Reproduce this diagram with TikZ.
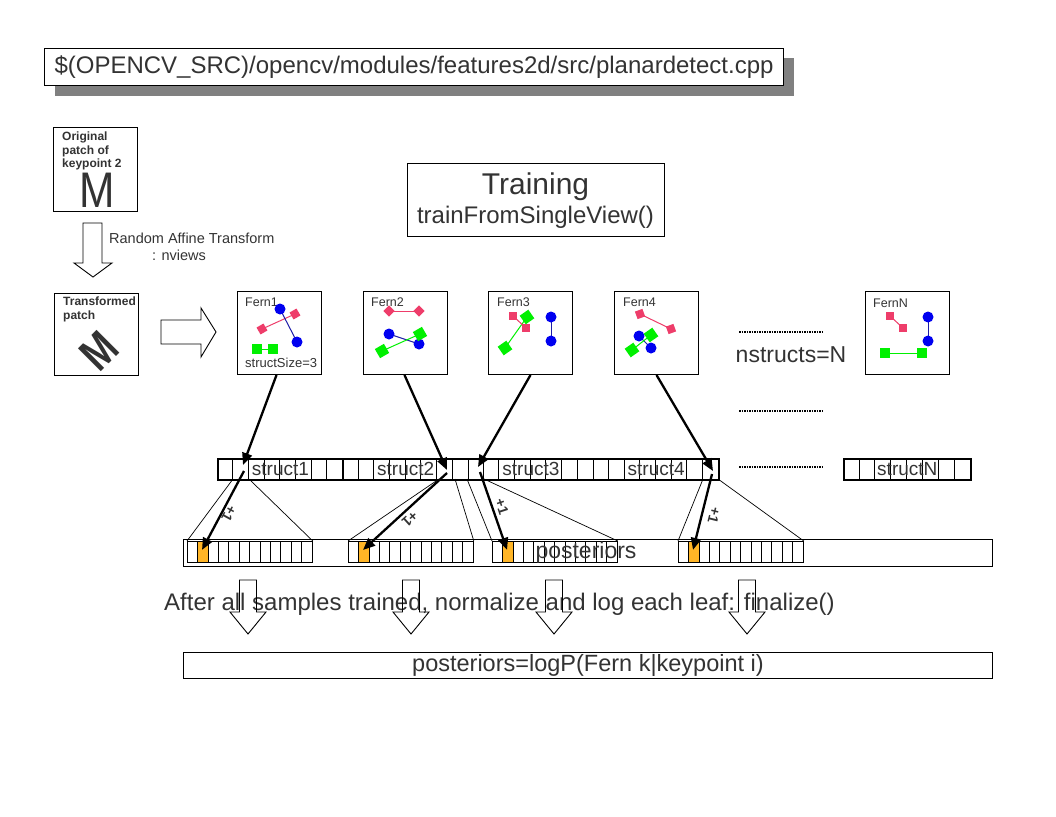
\documentclass[tikz,border=0pt]{standalone}
\usepackage{fontspec}
\setmainfont{Liberation Sans}
\usetikzlibrary{arrows.meta}
\definecolor{txt}{HTML}{333333}
\definecolor{pinkc}{HTML}{EE3D6A}
\definecolor{bluec}{HTML}{0000F0}
\definecolor{blueline}{HTML}{1C1CA8}
\definecolor{greenc}{HTML}{00F000}
\definecolor{orangec}{HTML}{FFB526}
\definecolor{shadowc}{HTML}{808080}
\newcommand\fsz[2]{\fontsize{#1}{#2}\selectfont}
\begin{document}
\begin{tikzpicture}[x=1pt,y=-1pt,
  box/.style={draw=black, line width=1.1pt, fill=white, inner sep=0pt},
  lbl/.style={text=txt, inner sep=0pt},
  thickarrow/.style={line width=2.3pt, -{Triangle[length=12pt,width=10pt]}},
  funnel/.style={line width=0.7pt},
  hollow/.style={draw=black, line width=0.9pt},
  dots/.style={line width=1.3pt, dash pattern=on 1.6pt off 0.9pt},
  pinksq/.style={fill=pinkc, minimum size=8pt, inner sep=0pt},
  greensq/.style={fill=greenc, minimum size=10.5pt, inner sep=0pt},
  bluedot/.style={circle, fill=bluec, minimum size=11pt, inner sep=0pt},
  pl/.style={pinkc, line width=1pt},
  bl/.style={blueline, line width=1pt},
  gl/.style={greenc, line width=1pt},
  fernlbl/.style={lbl, font=\fsz{12.5}{14}, anchor=west},
  pluslbl/.style={lbl, font=\fsz{14}{16}\bfseries},
]
\useasboundingbox (0,0) rectangle (1056,816);

% title
\fill[shadowc] (55,58) rectangle (794,96);
\node[box, minimum width=739pt, minimum height=37pt, anchor=north west, text=txt, font=\fsz{24}{28}] (title) at (44,48) {\$(OPENCV\_SRC)/opencv/modules/features2d/src/planardetect.cpp};

% original patch
\node[box, minimum width=84pt, minimum height=84pt, anchor=north west] (orig) at (53,127) {};
\node[lbl, font=\fsz{12}{13.5}\bfseries, align=left, anchor=north west] (origtxt) at (62,132) {Original\\patch of\\keypoint 2};
\node[lbl, font=\fsz{50}{50}] (origM) at (97,190) {\scalebox{0.85}[1]{M}};

% down hollow arrow
\draw[hollow] (83,223) -- (102,223) -- (102,263) -- (112,263) -- (93,277) -- (74,263) -- (83,263) -- cycle;
\node[lbl, font=\fsz{14.5}{17}, anchor=west] (rat) at (109,238) {Random Affine Transform};
\node[lbl, font=\fsz{14.5}{17}, anchor=west] (nv) at (152,255) {: nviews};

% transformed patch
\node[box, minimum width=84pt, minimum height=82pt, anchor=north west] (trans) at (54,293) {};
\node[lbl, font=\fsz{12}{14}\bfseries, align=left, anchor=north west] (transtxt) at (63,297) {Transformed\\patch};
\node[lbl, font=\fsz{47}{47}\bfseries, rotate=45] (transM) at (99,351) {\scalebox{0.8}[1]{M}};

% right hollow arrow
\draw[hollow] (161,320) -- (201,320) -- (201,308) -- (216,332) -- (201,357) -- (201,344) -- (161,344) -- cycle;

% training
\node[box, minimum width=257pt, minimum height=73pt, anchor=north west] (train) at (407,163) {};
\node[lbl, font=\fsz{30}{32}] (traintitle) at (535.5,187) {Training};
\node[lbl, font=\fsz{24}{26}] (trainfn) at (535.5,217) {trainFromSingleView()};

% ferns
\node[box, line width=1pt, minimum width=84pt, minimum height=83pt, anchor=north west] (f1) at (237,291) {};
\node[box, line width=1pt, minimum width=84pt, minimum height=83pt, anchor=north west] (f2) at (363,291) {};
\node[box, line width=1pt, minimum width=84pt, minimum height=83pt, anchor=north west] (f3) at (488,291) {};
\node[box, line width=1pt, minimum width=84pt, minimum height=83pt, anchor=north west] (f4) at (614,291) {};
\node[box, line width=1pt, minimum width=84pt, minimum height=83pt, anchor=north west] (fN) at (865,291) {};

% Fern1
\node[fernlbl] (f1l) at (245,302) {Fern1};
\draw[pl] (262,329) -- (295,314);
\node[pinksq, rotate=30] (f1p1) at (262,329) {};
\node[pinksq, rotate=30] (f1p2) at (295,314) {};
\draw[bl] (280,309) -- (297,342);
\node[bluedot] (f1b1) at (280,309) {};
\node[bluedot] (f1b2) at (297,342) {};
\draw[gl] (257,349) -- (273,349);
\node[greensq] (f1g1) at (257,349) {};
\node[greensq] (f1g2) at (273,349) {};
\node[fernlbl, font=\fsz{13}{15}] (f1s) at (245,363) {structSize=3};

% Fern2
\node[fernlbl] (f2l) at (371,302) {Fern2};
\draw[pl] (389,311) -- (419,311);
\node[pinksq, rotate=45] (f2p1) at (389,311) {};
\node[pinksq, rotate=45] (f2p2) at (419,311) {};
\draw[bl] (389,334) -- (419,344);
\node[bluedot] (f2b1) at (389,334) {};
\node[bluedot] (f2b2) at (419,344) {};
\draw[gl] (382,351) -- (420,334);
\node[greensq, rotate=30] (f2g1) at (420,334) {};
\node[greensq, rotate=30] (f2g2) at (382,351) {};

% Fern3
\node[fernlbl] (f3l) at (497,302) {Fern3};
\draw[gl] (505,348) -- (527,317);
\node[greensq, rotate=35] (f3g1) at (527,317) {};
\node[greensq, rotate=35] (f3g2) at (505,348) {};
\draw[pl] (513,316) -- (526,328);
\node[pinksq] (f3p1) at (513,316) {};
\node[pinksq] (f3p2) at (526,328) {};
\draw[bl] (551,317) -- (551,341);
\node[bluedot] (f3b1) at (551,317) {};
\node[bluedot] (f3b2) at (551,341) {};

% Fern4
\node[fernlbl] (f4l) at (623,302) {Fern4};
\draw[pl] (640,314) -- (671,329);
\node[pinksq, rotate=20] (f4p1) at (640,314) {};
\node[pinksq, rotate=20] (f4p2) at (671,329) {};
\draw[bl] (639,336) -- (651,348);
\node[bluedot] (f4b1) at (639,336) {};
\node[bluedot] (f4b2) at (651,348) {};
\draw[gl] (632,350) -- (651,335);
\node[greensq, rotate=35] (f4g1) at (651,335) {};
\node[greensq, rotate=35] (f4g2) at (632,350) {};

% FernN
\node[fernlbl] (fNl) at (873,303) {FernN};
\draw[pl] (890,316) -- (903,328);
\node[pinksq] (fNp1) at (890,316) {};
\node[pinksq] (fNp2) at (903,328) {};
\draw[bl] (928,317) -- (928,341);
\node[bluedot] (fNb1) at (928,317) {};
\node[bluedot] (fNb2) at (928,341) {};
\draw[gl] (885,353) -- (922,353);
\node[greensq] (fNg1) at (885,353) {};
\node[greensq] (fNg2) at (922,353) {};

% nstructs
\draw[dots] (739,332) -- (823,332);
\node[lbl, font=\fsz{23}{26}] (nstr) at (791,355) {nstructs=N};
\draw[dots] (739,411) -- (822,411);
\draw[dots] (739,467) -- (822,467);

% struct row
\foreach \n/\gx/\gw/\t in {1/217/125.25/struct1, 2/342.25/125.25/struct2, 3/467.5/125.25/struct3, 4/592.75/125.25/struct4, N/843/127/structN}{
  \node[draw, line width=1.6pt, minimum width=\gw pt, minimum height=21pt, anchor=north west, inner sep=0pt] (g\n) at (\gx,458) {};
  \foreach \i in {1,...,7} \draw[line width=0.7pt] (\gx+\i*\gw/8,458) -- ++(0,21);
  \node[lbl, font=\fsz{19}{22}] (gl\n) at (g\n.center) {\t};
}

% posteriors row
\node[draw, line width=1pt, minimum width=809pt, minimum height=27pt, anchor=north west, inner sep=0pt] (post) at (183,539) {};
\foreach \n/\sx in {1/187,2/348,3/492,4/678}{
  \node[draw, line width=0.8pt, minimum width=125pt, minimum height=21pt, anchor=north west, inner sep=0pt] (p\n) at (\sx,541) {};
  \foreach \i in {3,...,11} \draw[line width=0.6pt] (\sx+\i*10.42,541) -- ++(0,21);
  \node[draw, fill=orangec, line width=0.8pt, minimum width=10.42pt, minimum height=21pt, anchor=north west, inner sep=0pt] (o\n) at (\sx+10.42,541) {};
}
\node[lbl, font=\fsz{23}{26}] (postlbl) at (586,553) {posteriors};

% funnel lines
\coordinate (c1a) at (233,479); \coordinate (c1b) at (249,479);
\coordinate (c2a) at (439,479); \coordinate (c2b) at (455,479);
\coordinate (c3a) at (467,479); \coordinate (c3b) at (484,479);
\coordinate (c4a) at (703,479); \coordinate (c4b) at (718,479);
\draw[funnel] (p1.north west) -- (c1a); \draw[funnel] (p1.north east) -- (c1b);
\draw[funnel] (p2.north west) -- (c2a); \draw[funnel] (p2.north east) -- (c2b);
\draw[funnel] (p3.north west) -- (c3a); \draw[funnel] (p3.north east) -- (c3b);
\draw[funnel] (p4.north west) -- (c4a); \draw[funnel] (p4.north east) -- (c4b);

% fern -> struct arrows
\coordinate (t1) at (243,465);
\coordinate (t2) at (447,470);
\coordinate (t3) at (478,467);
\coordinate (t4) at (713,471);
\draw[thickarrow] ([xshift=-3pt]f1.south) -- (t1);
\draw[thickarrow] ([xshift=-1pt]f2.south) -- (t2);
\draw[thickarrow] (f3.south) -- (t3);
\draw[thickarrow] (f4.south) -- (t4);

% struct -> posterior arrows
\coordinate (u1) at (244,471);
\coordinate (u2) at (447,473);
\coordinate (u3) at (480,472);
\coordinate (u4) at (712,474);
\draw[thickarrow] (u1) -- ([xshift=-1pt,yshift=2pt]o1.center);
\draw[thickarrow] (u2) -- ([xshift=-1pt,yshift=2pt]o2.center);
\draw[thickarrow] (u3) -- ([xshift=-1pt,yshift=2pt]o3.center);
\draw[thickarrow] (u4) -- ([xshift=-1pt,yshift=2pt]o4.center);
\node[pluslbl, rotate=-118.6] (pl1) at (229,514) {+1};
\node[pluslbl, rotate=-137.8] (pl2) at (410,519) {+1};
\node[pluslbl, rotate=-71.8] (pl3) at (502,507) {+1};
\node[pluslbl, rotate=-103.9] (pl4) at (714,515) {+1};

% finalize
\node[lbl, font=\fsz{24}{28}] (fin) at (499.5,604) {After all samples trained, normalize and log each leaf: finalize()};
\foreach \cx [count=\k] in {248,411,554,747}{
  \draw[hollow] (\cx-8.5,580) -- (\cx+8.5,580) -- (\cx+8.5,612) -- (\cx+18,612) -- (\cx,634) -- (\cx-18,612) -- (\cx-8.5,612) -- cycle;
}
\node[box, line width=1pt, minimum width=809pt, minimum height=26pt, anchor=north west, text=txt, font=\fsz{23.5}{26}] (final) at (183,652) {posteriors=logP(Fern k|keypoint i)};
\end{tikzpicture}
\end{document}
